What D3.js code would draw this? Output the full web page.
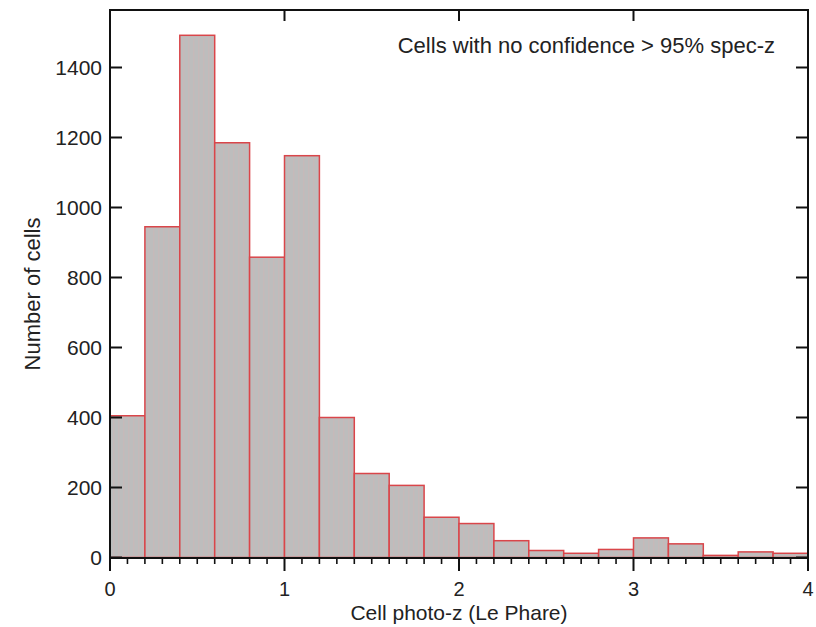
<!DOCTYPE html>
<html>
<head>
<meta charset="utf-8">
<script src="https://cdn.jsdelivr.net/npm/d3@7"></script>
<style>
  body { margin: 0; background: #fff; }
  text { font-family: "Liberation Sans", Arial, sans-serif; fill: #222; }
</style>
</head>
<body>
<div id="chart"></div>
<script>
// histogram bins (lower edges) and counts
const binStarts = [0, 0.2, 0.4, 0.6, 0.8, 1.0, 1.2, 1.4, 1.6, 1.8, 2.0, 2.2, 2.4, 2.6, 2.8, 3.0, 3.2, 3.4, 3.6, 3.8];
const counts = [405, 945, 1492, 1185, 858, 1148, 400, 240, 206, 115, 97, 48, 20, 12, 23, 56, 39, 6, 16, 12];
const binWidth = 0.2;
const xTicks = [0, 1, 2, 3, 4];
const yTicks = [0, 200, 400, 600, 800, 1000, 1200, 1400];

const data = binStarts.map((s, i) => ({x0: s, x1: s + binWidth, n: counts[i]}));

const margin = {top: 10, right: 8, bottom: 69, left: 110};
const W = 816, H = 627;
const width = W - margin.left - margin.right;
const height = H - margin.top - margin.bottom;

const svg = d3.select("#chart")
    .append("svg")
    .attr("width", W)
    .attr("height", H);

const defs = svg.append("defs");
const pat = defs.append("pattern")
    .attr("id", "stripes")
    .attr("patternUnits", "userSpaceOnUse")
    .attr("width", 5)
    .attr("height", 5);
pat.append("rect").attr("width", 5).attr("height", 5).attr("fill", "#bdbdbd");
pat.append("rect").attr("x", 3).attr("width", 1.5).attr("height", 5).attr("fill", "#c6b9b9");

const g = svg.append("g")
    .attr("transform", `translate(${margin.left},${margin.top})`);

const x = d3.scaleLinear().domain([0, 4]).range([0, width]);
// baseline sits a touch above the frame bottom
const y = d3.scaleLinear().domain([0, 1400]).range([height - 0.5, height - 490.5]);

g.selectAll("rect.bar")
    .data(data)
    .enter()
    .append("rect")
    .attr("class", "bar")
    .attr("x", d => x(d.x0))
    .attr("y", d => y(d.n))
    .attr("width", d => x(d.x1) - x(d.x0))
    .attr("height", d => y(0) - y(d.n))
    .attr("fill", "url(#stripes)")
    .attr("stroke", "#d9464a")
    .attr("stroke-width", 1.5);

// frame
g.append("rect")
    .attr("width", width)
    .attr("height", height)
    .attr("fill", "none")
    .attr("stroke", "#111")
    .attr("stroke-width", 2);

// bottom axis: ticks outward
const minor = d3.range(0, 40.5, 1).map(d => d / 10);
g.append("g").selectAll("line")
    .data(minor)
    .enter()
    .append("line")
    .attr("x1", d => x(d)).attr("x2", d => x(d))
    .attr("y1", height)
    .attr("y2", d => Math.abs(d - Math.round(d)) < 1e-6 ? height + 13 : height + 6)
    .attr("stroke", "#111")
    .attr("stroke-width", d => Math.abs(d - Math.round(d)) < 1e-6 ? 2 : 1.6);

g.append("g").selectAll("text")
    .data(xTicks)
    .enter()
    .append("text")
    .attr("x", d => x(d))
    .attr("y", height + 38)
    .attr("text-anchor", "middle")
    .style("font-size", "20px")
    .text(d => d);

// top axis: major ticks inward
g.append("g").selectAll("line")
    .data(xTicks.slice(1, -1))
    .enter()
    .append("line")
    .attr("x1", d => x(d)).attr("x2", d => x(d))
    .attr("y1", 0).attr("y2", 11)
    .attr("stroke", "#111")
    .attr("stroke-width", 2);

// left and right ticks inward
g.append("g").selectAll("line")
    .data(yTicks)
    .enter()
    .append("line")
    .attr("x1", 0).attr("x2", 12)
    .attr("y1", d => y(d)).attr("y2", d => y(d))
    .attr("stroke", "#111")
    .attr("stroke-width", 2);

g.append("g").selectAll("line")
    .data(yTicks)
    .enter()
    .append("line")
    .attr("x1", width - 12).attr("x2", width)
    .attr("y1", d => y(d)).attr("y2", d => y(d))
    .attr("stroke", "#111")
    .attr("stroke-width", 2);

g.append("g").selectAll("text")
    .data(yTicks)
    .enter()
    .append("text")
    .attr("x", -8)
    .attr("y", d => y(d))
    .attr("dy", "0.35em")
    .attr("text-anchor", "end")
    .style("font-size", "21px")
    .text(d => d);

// labels
g.append("text")
    .attr("x", 349)
    .attr("y", height + 62)
    .attr("text-anchor", "middle")
    .style("font-size", "21px")
    .text("Cell photo-z (Le Phare)");

g.append("text")
    .attr("transform", `translate(-70,${height / 2 + 10}) rotate(-90)`)
    .attr("text-anchor", "middle")
    .style("font-size", "22px")
    .text("Number of cells");

g.append("text")
    .attr("x", width - 33)
    .attr("y", 43)
    .attr("text-anchor", "end")
    .style("font-size", "22px")
    .text("Cells with no confidence > 95% spec-z");
</script>
</body>
</html>
